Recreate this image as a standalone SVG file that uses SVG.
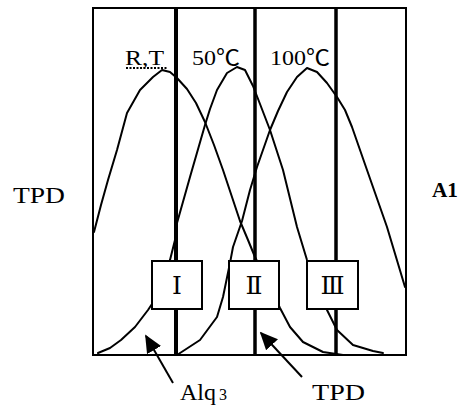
<svg xmlns="http://www.w3.org/2000/svg" width="462" height="407" viewBox="0 0 462 407">
<style>
.crv{fill:none;stroke:#000;stroke-width:2;stroke-linejoin:round;stroke-linecap:round}
.vl{stroke:#000;stroke-width:3.5}
.bx{fill:#fff;stroke:#000;stroke-width:2}
.t{font-family:"Liberation Serif","Noto Sans CJK JP",serif;fill:#000}
.rn{font-family:"DejaVu Serif","Liberation Serif",serif;font-size:25px;text-anchor:middle;fill:#000}
.ar{stroke:#000;stroke-width:2;fill:none}
</style>
<defs>
<marker id="ah2" viewBox="0 0 10 10" refX="9" refY="5" markerWidth="18" markerHeight="18" markerUnits="userSpaceOnUse" orient="auto">
<path d="M0,0.5 L10,5 L0,9.5 z" fill="#000"/>
</marker>
</defs>
<g id="frame">
<rect x="93" y="8" width="313" height="347" fill="none" stroke="#000" stroke-width="2"/>
</g>
<g id="curves">
<polyline class="crv" points="94,232 101,205 108,180 117,150 127,113 140,90 153,77 162,70 170,72 177,78 187,89 196,103 205,122 214,145 223,170 232,197 240,221 248,240 255,257 258,263 280,308 290,327 303,342 323,352 343,355"/>
<polyline class="crv" points="98,353 110,348 121,340 135,327 148,310 152,304 170,260 175,240 177,223 190,177 205,125 210,109 217,90 227,73 237,67 245,70 253,86 260,104 270,130 283,170 297,227 307,260 327,310 337,330 353,345 373,351 383,353"/>
<polyline class="crv" points="177,355 200,340 217,317 223,297 230,263 233,247 242,221 250,190 257,167 270,130 278,111 287,92 297,77 307,68 317,72 327,83 337,97 345,110 352,127 367,170 387,227 405,287"/>
</g>
<g id="lines">
<line class="vl" x1="176" y1="8" x2="176" y2="355" style="stroke-width:4"/>
<line class="vl" x1="255" y1="8" x2="255" y2="355"/>
<line class="vl" x1="336" y1="8" x2="336" y2="355"/>
</g>
<g id="box1">
<rect class="bx" x="152" y="261" width="50" height="48"/>
<text class="rn" x="177" y="294">Ⅰ</text>
</g>
<g id="box2">
<rect class="bx" x="229" y="261" width="50" height="48"/>
<text class="rn" x="254" y="294">Ⅱ</text>
</g>
<g id="box3">
<rect class="bx" x="307" y="261" width="51" height="48"/>
<text class="rn" x="332.5" y="294">Ⅲ</text>
</g>
<g id="labels">
<text class="t" x="125" y="65" font-size="22" textLength="39" lengthAdjust="spacingAndGlyphs">R,T</text>
<line x1="126" y1="68" x2="168" y2="68" stroke="#000" stroke-width="2" stroke-dasharray="2,1.5"/>
<text class="t" x="192" y="65" font-size="22" textLength="48" lengthAdjust="spacingAndGlyphs">50℃</text>
<text class="t" x="270" y="65" font-size="22" textLength="60" lengthAdjust="spacingAndGlyphs">100℃</text>
<text class="t" x="13" y="203" font-size="23" textLength="52" lengthAdjust="spacingAndGlyphs">TPD</text>
<text class="t" x="432" y="197" font-size="21" font-weight="bold" textLength="26" lengthAdjust="spacingAndGlyphs">A1</text>
<text class="t" x="180" y="400" font-size="23" textLength="36" lengthAdjust="spacingAndGlyphs">Alq</text><text class="t" x="219" y="400" font-size="16">3</text>
<text class="t" x="312" y="400" font-size="23" textLength="53" lengthAdjust="spacingAndGlyphs">TPD</text>
</g>
<g id="connectors">
<line class="ar" x1="173" y1="383" x2="146" y2="336" marker-end="url(#ah2)"/>
<line class="ar" x1="302" y1="377" x2="261" y2="333" marker-end="url(#ah2)"/>
</g>
</svg>
